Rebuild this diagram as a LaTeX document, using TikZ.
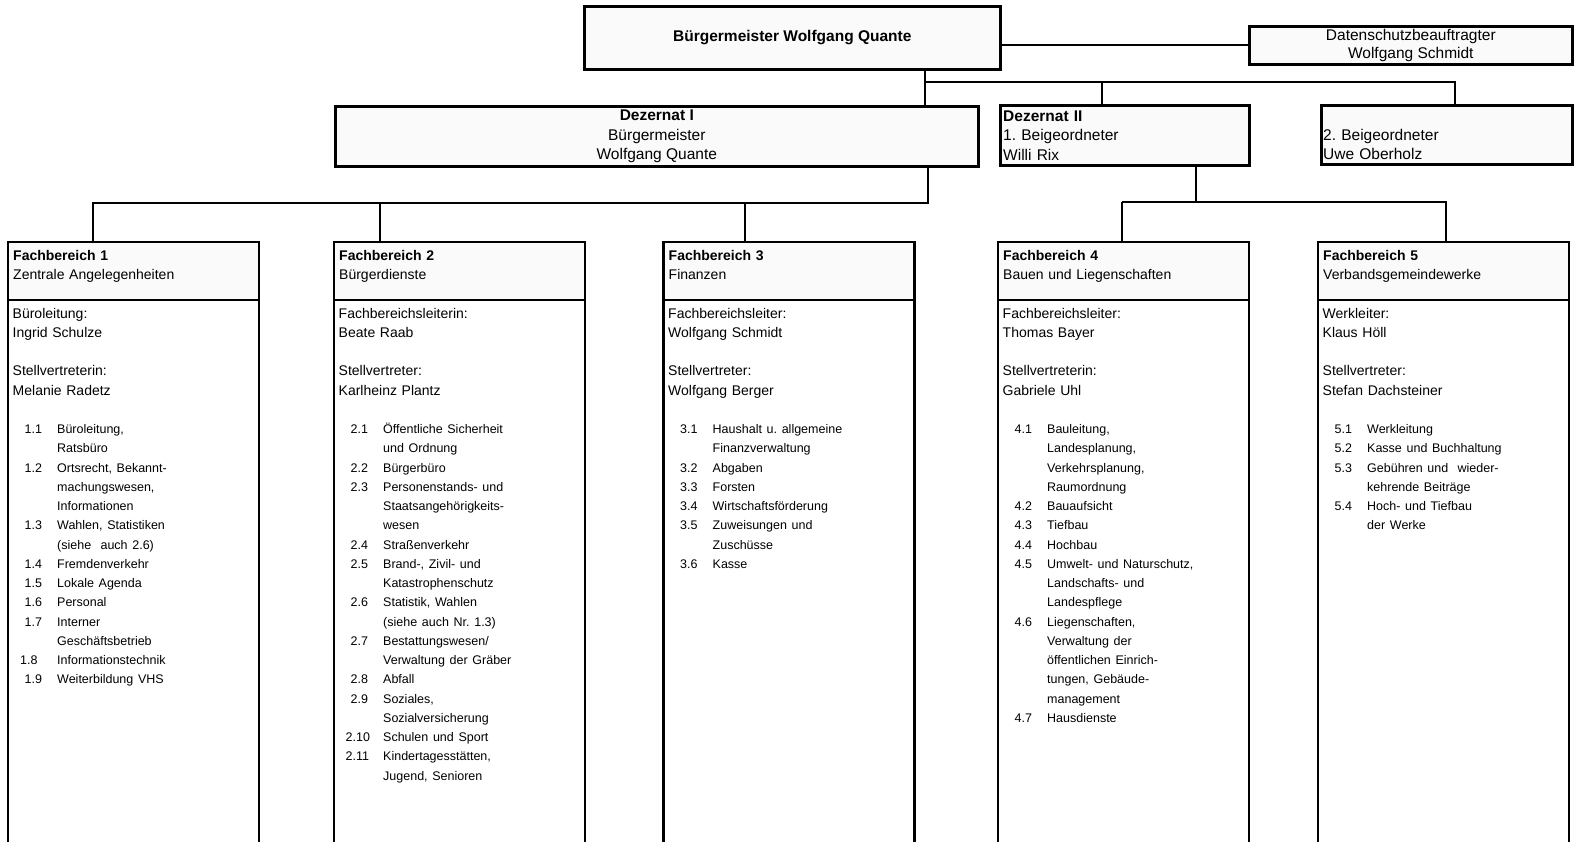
\documentclass[tikz,border=0pt]{standalone}
\usepackage{fontspec}
\setmainfont{Liberation Sans}
\usetikzlibrary{positioning}
\frenchspacing

\newcommand{\fsbig}{\fontsize{15.5}{19.5}\selectfont}
\newcommand{\fsmid}{\fontsize{14}{19.25}\selectfont}
\newcommand{\fssmall}{\fontsize{12.5}{19.25}\selectfont}
\newcommand{\fbitem}[3][12pt]{\makebox[44.5pt][l]{\hspace*{#1}#2}#3}
\newcommand{\fbcont}[1]{\hspace*{44.5pt}#1}

\begin{document}
\begin{tikzpicture}[x=1pt, y=-1pt]
        % Setup the styles for the boxes, texts and lines
        \tikzset{top box/.style={draw, line width=2.6pt, fill=black!2,
                                 anchor=north west, inner sep=0pt,
                                 align=center, font=\fsbig},
                 head box/.style={draw, line width=2.4pt, fill=black!2,
                                  anchor=north west, inner sep=0pt, outer sep=0pt,
                                  minimum width=251pt, minimum height=58pt},
                 body box/.style={draw, line width=2.4pt, inner sep=0pt, outer sep=0pt,
                                  minimum width=251pt, minimum height=548pt},
                 box text/.style={anchor=base west, inner sep=0pt,
                                  text width=240pt, align=left, font=\fsbig},
                 head text/.style={anchor=base west, inner sep=0pt,
                                   text width=240pt, align=left, font=\fsmid},
                 body text/.style={anchor=base west, inner sep=0pt,
                                   text width=240pt, align=left, font=\fsmid},
                 link/.style={line width=1.8pt}}

        \useasboundingbox (0,0) rectangle (1578,841);

        % Draw the top boxes
        \node[top box, minimum width=416pt, minimum height=63pt] at (583,5)   (bgm)  {\textbf{Bürgermeister Wolfgang Quante}};
        \node[top box, minimum width=323pt, minimum height=38pt,
              font=\fontsize{15.5}{18}\selectfont] at (1248,25) (dsb)  {Datenschutzbeauftragter\\Wolfgang Schmidt};
        \node[top box, minimum width=643pt, minimum height=60pt] at (334,105) (dez1) {\textbf{Dezernat I}\\Bürgermeister\\Wolfgang Quante};
        \node[top box, minimum width=249pt, minimum height=60pt] at (999,104) (dez2) {};
        \node[top box, minimum width=251pt, minimum height=59pt] at (1320,104) (beig2) {};
        \node[box text] at (1003,121) (dez2t)  {\textbf{Dezernat II}\\1. Beigeordneter\\Willi Rix};
        \node[box text] at (1323,140) (beig2t) {2. Beigeordneter\\Uwe Oberholz};

        % Draw the Fachbereich boxes
        \node[head box] at (8,242)     (fb1h) {};
        \node[head box] at (334,242)   (fb2h) {};
        \node[head box] at (663.5,242) (fb3h) {};
        \node[head box] at (998,242)   (fb4h) {};
        \node[head box] at (1318,242)  (fb5h) {};
        \node[body box, below=0pt of fb1h] (fb1) {};
        \node[body box, below=0pt of fb2h] (fb2) {};
        \node[body box, below=0pt of fb3h] (fb3) {};
        \node[body box, below=0pt of fb4h] (fb4) {};
        \node[body box, below=0pt of fb5h] (fb5) {};

        \node[head text] at ([xshift=5pt,yshift=-18pt]fb1h.north west) (fb1ht) {\textbf{Fachbereich 1}\\Zentrale Angelegenheiten};
        \node[head text] at ([xshift=5pt,yshift=-18pt]fb2h.north west) (fb2ht) {\textbf{Fachbereich 2}\\Bürgerdienste};
        \node[head text] at ([xshift=5pt,yshift=-18pt]fb3h.north west) (fb3ht) {\textbf{Fachbereich 3}\\Finanzen};
        \node[head text] at ([xshift=5pt,yshift=-18pt]fb4h.north west) (fb4ht) {\textbf{Fachbereich 4}\\Bauen und Liegenschaften};
        \node[head text] at ([xshift=5pt,yshift=-18pt]fb5h.north west) (fb5ht) {\textbf{Fachbereich 5}\\Verbandsgemeindewerke};

        % Fill the Fachbereich boxes
        \node[body text] at ([xshift=4.5pt,yshift=-18pt]fb1.north west) (fb1t) {Büroleitung:\\Ingrid Schulze\\[19.25pt]Stellvertreterin:\\Melanie Radetz\\[19.25pt]
            {\fssmall\fbitem{1.1}{Büroleitung,}\\\fbcont{Ratsbüro}\\
            \fbitem{1.2}{Ortsrecht, Bekannt-}\\\fbcont{machungswesen,}\\\fbcont{Informationen}\\
            \fbitem{1.3}{Wahlen, Statistiken}\\\fbcont{(siehe\ \ auch 2.6)}\\
            \fbitem{1.4}{Fremdenverkehr}\\
            \fbitem{1.5}{Lokale Agenda}\\
            \fbitem{1.6}{Personal}\\
            \fbitem{1.7}{Interner}\\\fbcont{Geschäftsbetrieb}\\
            \fbitem[7.5pt]{1.8}{Informationstechnik}\\
            \fbitem{1.9}{Weiterbildung VHS}}};
        \node[body text] at ([xshift=4.5pt,yshift=-18pt]fb2.north west) (fb2t) {Fachbereichsleiterin:\\Beate Raab\\[19.25pt]Stellvertreter:\\Karlheinz Plantz\\[19.25pt]
            {\fssmall\fbitem{2.1}{Öffentliche Sicherheit}\\\fbcont{und Ordnung}\\
            \fbitem{2.2}{Bürgerbüro}\\
            \fbitem{2.3}{Personenstands- und}\\\fbcont{Staatsangehörigkeits-}\\\fbcont{wesen}\\
            \fbitem{2.4}{Straßenverkehr}\\
            \fbitem{2.5}{Brand-, Zivil- und}\\\fbcont{Katastrophenschutz}\\
            \fbitem{2.6}{Statistik, Wahlen}\\\fbcont{(siehe auch Nr. 1.3)}\\
            \fbitem{2.7}{Bestattungswesen/}\\\fbcont{Verwaltung der Gräber}\\
            \fbitem{2.8}{Abfall}\\
            \fbitem{2.9}{Soziales,}\\\fbcont{Sozialversicherung}\\
            \fbitem[7pt]{2.10}{Schulen und Sport}\\
            \fbitem[7pt]{2.11}{Kindertagesstätten,}\\\fbcont{Jugend, Senioren}}};
        \node[body text] at ([xshift=4.5pt,yshift=-18pt]fb3.north west) (fb3t) {Fachbereichsleiter:\\Wolfgang Schmidt\\[19.25pt]Stellvertreter:\\Wolfgang Berger\\[19.25pt]
            {\fssmall\fbitem{3.1}{Haushalt u. allgemeine}\\\fbcont{Finanzverwaltung}\\
            \fbitem{3.2}{Abgaben}\\
            \fbitem{3.3}{Forsten}\\
            \fbitem{3.4}{Wirtschaftsförderung}\\
            \fbitem{3.5}{Zuweisungen und}\\\fbcont{Zuschüsse}\\
            \fbitem{3.6}{Kasse}}};
        \node[body text] at ([xshift=4.5pt,yshift=-18pt]fb4.north west) (fb4t) {Fachbereichsleiter:\\Thomas Bayer\\[19.25pt]Stellvertreterin:\\Gabriele Uhl\\[19.25pt]
            {\fssmall\fbitem{4.1}{Bauleitung,}\\\fbcont{Landesplanung,}\\\fbcont{Verkehrsplanung,}\\\fbcont{Raumordnung}\\
            \fbitem{4.2}{Bauaufsicht}\\
            \fbitem{4.3}{Tiefbau}\\
            \fbitem{4.4}{Hochbau}\\
            \fbitem{4.5}{Umwelt- und Naturschutz,}\\\fbcont{Landschafts- und}\\\fbcont{Landespflege}\\
            \fbitem{4.6}{Liegenschaften,}\\\fbcont{Verwaltung der}\\\fbcont{öffentlichen Einrich-}\\\fbcont{tungen, Gebäude-}\\\fbcont{management}\\
            \fbitem{4.7}{Hausdienste}}};
        \node[body text] at ([xshift=4.5pt,yshift=-18pt]fb5.north west) (fb5t) {Werkleiter:\\Klaus Höll\\[19.25pt]Stellvertreter:\\Stefan Dachsteiner\\[19.25pt]
            {\fssmall\fbitem{5.1}{Werkleitung}\\
            \fbitem{5.2}{Kasse und Buchhaltung}\\
            \fbitem{5.3}{Gebühren und\ \ wieder-}\\\fbcont{kehrende Beiträge}\\
            \fbitem{5.4}{Hoch- und Tiefbau}\\\fbcont{der Werke}}};

        % Connect the boxes
        \coordinate (busA)  at (925,82);
        \coordinate (busB)  at (1102,82);
        \coordinate (busC)  at (1455,82);
        \coordinate (busD)  at (928,203);
        \coordinate (drop1) at (93,203);
        \coordinate (drop2) at (380,203);
        \coordinate (drop3) at (745,203);
        \coordinate (busE)  at (1196,202);
        \coordinate (drop4) at (1122,202);
        \coordinate (drop5) at (1446,202);

        \draw[link] (bgm.east |- dsb.west) -- (dsb.west);
        \draw[link] (bgm.south -| busA) -- (dez1.north -| busA);
        \draw[link] (busA) -- (busC) -- (beig2.north -| busC);
        \draw[link] (busB) -- (dez2.north -| busB);
        \draw[link] (dez1.south -| busD) -- (busD) -- (drop1) -- (fb1h.north -| drop1);
        \draw[link] (drop2) -- (fb2h.north -| drop2);
        \draw[link] (drop3) -- (fb3h.north -| drop3);
        \draw[link] (dez2.south -| busE) -- (busE);
        \draw[link] (drop4) -- (drop5) -- (fb5h.north -| drop5);
        \draw[link] (drop4) -- (fb4h.north -| drop4);
\end{tikzpicture}
\end{document}
